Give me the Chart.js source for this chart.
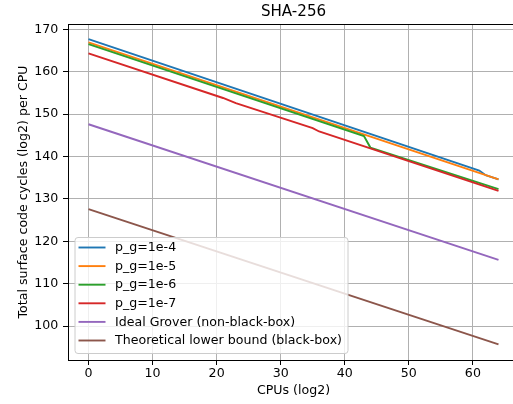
<!DOCTYPE html>
<html><head><meta charset="utf-8">
<script src="https://cdn.jsdelivr.net/npm/chart.js@4"></script>
<style>
html,body{margin:0;padding:0;overflow:hidden;background:#fff;width:513px;height:404px}
#wrap{width:519px;height:404px}
canvas{display:block}
</style></head>
<body><div id="wrap"><canvas id="c" width="519" height="404"></canvas></div>
<script>
const chartTitle = 'SHA-256';
const xLabel = 'CPUs (log2)';
const yLabel = 'Total surface code cycles (log2) per CPU';
const seriesNames = ['p_g=1e-4','p_g=1e-5','p_g=1e-6','p_g=1e-7','Ideal Grover (non-black-box)','Theoretical lower bound (black-box)'];
const seriesColors = ['#1f77b4','#ff7f0e','#2ca02c','#d62728','#9467bd','#8c564b'];
const pg4X = [0, 61, 62, 64];
const pg4Y = [167.7, 136.7, 135.6, 134.6];
const pg5X = [0, 64];
const pg5Y = [166.9, 134.6];
const pg6X = [0, 43, 44, 64];
const pg6Y = [166.5, 144.8, 142.1, 132.3];
const pg7X = [0, 21, 23, 35, 36, 64];
const pg7Y = [164.3, 153.8, 152.6, 146.7, 145.9, 131.9];
const groverX = [0, 64];
const groverY = [147.6, 115.6];
const lowerX = [0, 64];
const lowerY = [127.6, 95.7];
const xTicks = [0, 10, 20, 30, 40, 50, 60];
const yTicks = [100, 110, 120, 130, 140, 150, 160, 170];

const FONT = "'DejaVu Sans', sans-serif";
const FS = 12.6;
const seriesX = [pg4X, pg5X, pg6X, pg7X, groverX, lowerX];
const seriesY = [pg4Y, pg5Y, pg6Y, pg7Y, groverY, lowerY];

const datasets = seriesNames.map((name, i) => ({
  label: name,
  data: seriesX[i].map((x, j) => ({x: x, y: seriesY[i][j]})),
  borderColor: seriesColors[i],
  backgroundColor: seriesColors[i],
  borderWidth: 1.9,
  pointRadius: 0,
  showLine: true,
  fill: false,
  tension: 0,
  order: seriesNames.length - i
}));

const decor = {
  id: 'decor',
  afterDraw(chart) {
    const {ctx, chartArea: a} = chart;
    ctx.save();
    // top spine
    ctx.strokeStyle = '#000';
    ctx.lineWidth = 1;
    ctx.beginPath();
    ctx.moveTo(a.left, Math.round(a.top) + 0.5);
    ctx.lineTo(a.right, Math.round(a.top) + 0.5);
    ctx.stroke();
    // title
    ctx.fillStyle = '#000';
    ctx.font = '15.1px ' + FONT;
    ctx.textAlign = 'center';
    ctx.textBaseline = 'middle';
    ctx.fillText(chartTitle, (a.left + a.right) / 2, 12);
    // legend
    const bx = a.left + 6.5, by = a.bottom - 123, bw = 273, bh = 116;
    ctx.beginPath();
    ctx.roundRect(bx + 0.5, by + 0.5, bw, bh, 3);
    ctx.fillStyle = 'rgba(255,255,255,0.8)';
    ctx.fill();
    ctx.strokeStyle = '#cccccc';
    ctx.lineWidth = 1;
    ctx.stroke();
    ctx.font = FS + 'px ' + FONT;
    ctx.textAlign = 'left';
    ctx.textBaseline = 'middle';
    chart.data.datasets.forEach((ds, i) => {
      const yy = by + 10.5 + i * 18.6;
      ctx.strokeStyle = ds.borderColor;
      ctx.lineWidth = 1.9;
      ctx.beginPath();
      ctx.moveTo(bx + 4, yy);
      ctx.lineTo(bx + 31, yy);
      ctx.stroke();
      ctx.fillStyle = '#000';
      ctx.fillText(ds.label, bx + 40.5, yy + 0.5);
    });
    ctx.restore();
  }
};

new Chart(document.getElementById('c'), {
  type: 'scatter',
  data: {datasets: datasets},
  plugins: [decor],
  options: {
    responsive: false,
    animation: false,
    devicePixelRatio: 1,
    layout: {padding: {top: 24, left: 0, right: 0, bottom: 0}},
    plugins: {legend: {display: false}, tooltip: {enabled: false}, title: {display: false}},
    scales: {
      x: {
        type: 'linear', min: -3.2, max: 67.2,
        afterBuildTicks: s => { s.ticks = xTicks.map(v => ({value: v})); },
        afterFit: s => { s.height = 44; },
        grid: {color: '#b0b0b0', lineWidth: 1, tickColor: '#000', tickWidth: 1, tickLength: 5, drawTicks: true},
        border: {display: true, color: '#000', width: 1},
        ticks: {color: '#000', font: {family: FONT, size: FS}, padding: 1.4, maxRotation: 0, autoSkip: false},
        title: {display: true, text: xLabel, color: '#000', font: {family: FONT, size: FS}, padding: {top: 0, bottom: 5.7}}
      },
      y: {
        type: 'linear', min: 92, max: 171.25,
        afterBuildTicks: s => { s.ticks = yTicks.map(v => ({value: v})); },
        afterFit: s => { s.width = 68; },
        grid: {color: '#b0b0b0', lineWidth: 1, tickColor: '#000', tickWidth: 1, tickLength: 5, drawTicks: true},
        border: {display: true, color: '#000', width: 1},
        ticks: {color: '#000', font: {family: FONT, size: FS}, padding: 4.7, autoSkip: false},
        title: {display: true, text: yLabel, color: '#000', font: {family: FONT, size: FS}, padding: {top: 16.4, bottom: 0}}
      }
    }
  }
});
</script>
</body></html>
